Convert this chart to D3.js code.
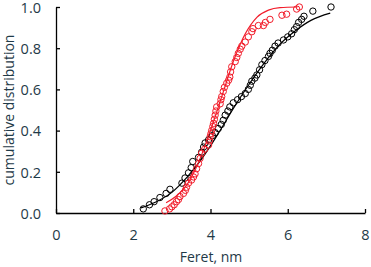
<!DOCTYPE html>
<html>
<head>
<meta charset="utf-8">
<script src="https://cdn.jsdelivr.net/npm/d3@7"></script>
<style>
  body { margin: 0; background: #fff; }
  #chart text { font-family: "Open Sans", "Noto Sans", sans-serif; fill: #1f3a48; }
</style>
</head>
<body>
<div id="chart"></div>
<script>
// Data: Feret diameter (nm) and cumulative fraction
var blackX = [2.26, 2.42, 2.54, 2.69, 2.85, 2.95, 3.26, 3.34, 3.43, 3.5, 3.54, 3.69, 3.77, 3.82, 3.86, 3.95, 4.05, 4.12, 4.2, 4.28, 4.33, 4.38, 4.45, 4.5, 4.59, 4.7, 4.8, 4.9, 4.98, 5.03, 5.07, 5.15, 5.2, 5.27, 5.33, 5.41, 5.5, 5.54, 5.6, 5.67, 5.75, 5.89, 6.0, 6.1, 6.17, 6.23, 6.28, 6.36, 6.42, 6.65, 7.12];
var blackY = [0.02, 0.04, 0.055, 0.075, 0.095, 0.115, 0.145, 0.17, 0.195, 0.22, 0.25, 0.27, 0.295, 0.32, 0.34, 0.355, 0.375, 0.39, 0.41, 0.43, 0.45, 0.475, 0.495, 0.515, 0.535, 0.55, 0.565, 0.58, 0.6, 0.62, 0.64, 0.655, 0.67, 0.695, 0.72, 0.74, 0.76, 0.775, 0.79, 0.81, 0.825, 0.84, 0.855, 0.87, 0.89, 0.905, 0.925, 0.94, 0.955, 0.98, 1.0];

var redX = [2.82, 2.94, 3.0, 3.06, 3.12, 3.17, 3.21, 3.3, 3.35, 3.38, 3.43, 3.51, 3.56, 3.6, 3.64, 3.69, 3.73, 3.77, 3.85, 3.95, 3.97, 3.99, 4.01, 4.03, 4.06, 4.08, 4.1, 4.12, 4.14, 4.16, 4.25, 4.27, 4.29, 4.33, 4.36, 4.42, 4.47, 4.5, 4.52, 4.55, 4.64, 4.68, 4.72, 4.77, 4.81, 4.9, 4.98, 5.07, 5.1, 5.24, 5.37, 5.42, 5.54, 5.85, 5.97, 6.23, 6.3];
var redY = [0.01, 0.02, 0.03, 0.04, 0.055, 0.065, 0.08, 0.095, 0.11, 0.125, 0.145, 0.16, 0.175, 0.19, 0.215, 0.24, 0.265, 0.29, 0.31, 0.33, 0.35, 0.37, 0.385, 0.4, 0.42, 0.435, 0.455, 0.475, 0.495, 0.515, 0.53, 0.55, 0.565, 0.59, 0.61, 0.63, 0.645, 0.66, 0.685, 0.71, 0.735, 0.755, 0.775, 0.795, 0.81, 0.83, 0.855, 0.88, 0.895, 0.91, 0.91, 0.925, 0.94, 0.96, 0.965, 0.99, 1.0];

// fitted curves
var blackFitX = [2.2, 2.6, 3.0, 3.4, 3.8, 4.2, 4.6, 5.0, 5.4, 5.8, 6.2, 6.6, 7.1];
var blackFitY = [0.025, 0.055, 0.1, 0.175, 0.27, 0.385, 0.51, 0.625, 0.73, 0.82, 0.885, 0.935, 0.97];
var redFitX = [2.85, 3.1, 3.4, 3.7, 4.0, 4.3, 4.6, 4.9, 5.2, 5.5, 5.8, 6.25];
var redFitY = [0.05, 0.08, 0.14, 0.25, 0.4, 0.57, 0.74, 0.87, 0.95, 0.985, 0.997, 1.0];

var xTicks = [0, 2, 4, 6, 8];
var yTicks = [0, 0.2, 0.4, 0.6, 0.8, 1.0];

var W = 371, H = 267;
var svg = d3.select("#chart").append("svg")
  .attr("width", W).attr("height", H);

var x = d3.scaleLinear().domain([0, 8]).range([56, 365]);
var y = d3.scaleLinear().domain([0, 1]).range([213, 7]);

// axes
var yAxis = d3.axisLeft(y).tickValues(yTicks).tickFormat(d3.format(".1f"))
  .tickSizeInner(-4).tickSizeOuter(0).tickPadding(15);
var gy = svg.append("g").attr("transform", "translate(56,0)").call(yAxis);

var xAxis = d3.axisBottom(x).tickValues(xTicks).tickFormat(d3.format("d"))
  .tickSizeInner(-4).tickSizeOuter(0).tickPadding(17);
var gx = svg.append("g").attr("transform", "translate(0,213)").call(xAxis);

[gx, gy].forEach(function(g) {
  g.select(".domain").attr("stroke", "#000").attr("stroke-width", 1.3);
  g.selectAll(".tick line").attr("stroke", "#000").attr("stroke-width", 1.3);
  g.selectAll(".tick text").style("font-size", "14.5px");
});
gy.selectAll(".tick text").attr("dy", "0.36em");

// fit lines
var line = d3.line()
  .x(function(d) { return x(d[0]); })
  .y(function(d) { return y(d[1]); })
  .curve(d3.curveMonotoneX);

svg.append("path").datum(d3.zip(blackFitX, blackFitY))
  .attr("d", line).attr("fill", "none").attr("stroke", "#000").attr("stroke-width", 1.2);
svg.append("path").datum(d3.zip(redFitX, redFitY))
  .attr("d", line).attr("fill", "none").attr("stroke", "#f21c2a").attr("stroke-width", 1.2);

// points
svg.append("g").selectAll("circle")
  .data(d3.zip(blackX, blackY))
  .enter().append("circle")
  .attr("cx", function(d) { return x(d[0]); })
  .attr("cy", function(d) { return y(d[1]); })
  .attr("r", 3.2)
  .attr("fill", "none").attr("stroke", "#000").attr("stroke-width", 1);

svg.append("g").selectAll("circle")
  .data(d3.zip(redX, redY))
  .enter().append("circle")
  .attr("cx", function(d) { return x(d[0]); })
  .attr("cy", function(d) { return y(d[1]); })
  .attr("r", 3.2)
  .attr("fill", "none").attr("stroke", "#f21c2a").attr("stroke-width", 1);

// axis titles
svg.append("text")
  .attr("x", 211).attr("y", 262)
  .attr("text-anchor", "middle")
  .style("font-size", "14px")
  .text("Feret, nm");

svg.append("text")
  .attr("transform", "translate(14,110) rotate(-90)")
  .attr("text-anchor", "middle")
  .style("font-size", "14px")
  .text("cumulative distribution");
</script>
</body>
</html>
